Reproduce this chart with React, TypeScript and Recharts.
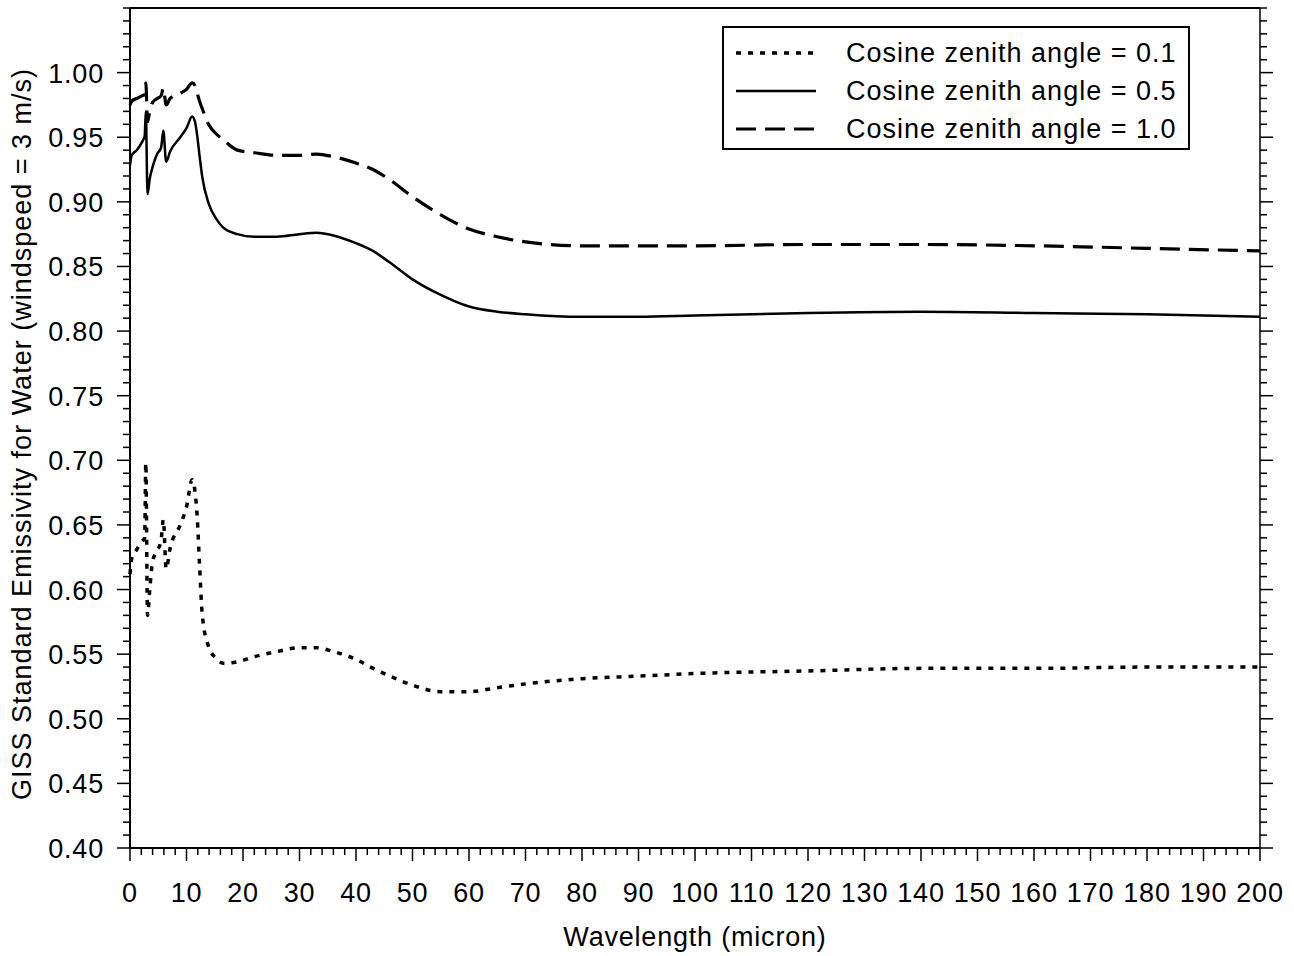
import React from "react";
import { LineChart, Line, XAxis, YAxis, ReferenceLine, Label } from "recharts";

const wavelength = [
  0, 0.3, 1.2, 2.1, 2.6, 2.8, 3.1, 3.5, 4.0, 4.8, 5.5, 5.9, 6.4, 7.1, 8.9, 10, 11, 11.5, 11.9, 12.3, 12.8,
  13.9, 15.4, 16.5, 19, 22, 26, 30, 33, 36, 40, 43, 46, 50, 55, 60, 65, 70, 80, 90, 100, 120, 140, 160,
  180, 200,
];
const cos01 = [
  0.612, 0.624, 0.631, 0.637, 0.64, 0.698, 0.58, 0.6, 0.622, 0.63, 0.638, 0.654, 0.616, 0.632, 0.65, 0.664,
  0.685, 0.676, 0.656, 0.62, 0.58, 0.556, 0.546, 0.543, 0.544, 0.548, 0.552, 0.555, 0.555, 0.552, 0.546,
  0.539, 0.533, 0.526, 0.521, 0.521, 0.524, 0.527, 0.531, 0.533, 0.535, 0.537, 0.539, 0.539, 0.54, 0.54,
];
const cos05 = [
  0.928, 0.936, 0.94, 0.946, 0.951, 0.97, 0.906, 0.918, 0.927, 0.937, 0.942, 0.955, 0.931, 0.939, 0.95,
  0.957, 0.966, 0.962, 0.951, 0.936, 0.919, 0.899, 0.886, 0.88, 0.875, 0.873, 0.873, 0.875, 0.876, 0.874,
  0.868, 0.862, 0.853, 0.84, 0.828, 0.819, 0.815, 0.813, 0.811, 0.811, 0.812, 0.814, 0.815, 0.814, 0.813,
  0.811,
];
const cos10 = [
  0.975, 0.978, 0.98, 0.982, 0.983, 0.992, 0.962, 0.97, 0.977, 0.98, 0.982, 0.988, 0.975, 0.98, 0.984,
  0.987, 0.992, 0.99, 0.984, 0.978, 0.972, 0.96, 0.952, 0.948, 0.94, 0.938, 0.936, 0.936, 0.937, 0.935,
  0.93, 0.925, 0.917, 0.904, 0.89, 0.879, 0.873, 0.869, 0.866, 0.866, 0.866, 0.867, 0.867, 0.866, 0.864,
  0.862,
];

const xMajorTicks = [0, 10, 20, 30, 40, 50, 60, 70, 80, 90, 100, 110, 120, 130, 140, 150, 160, 170, 180, 190, 200];
const yMajorTicks = [0.4, 0.45, 0.5, 0.55, 0.6, 0.65, 0.7, 0.75, 0.8, 0.85, 0.9, 0.95, 1.0];

const legendItems = [
  { label: "Cosine zenith angle = 0.1", dash: "5 7", width: 3.5 },
  { label: "Cosine zenith angle = 0.5", dash: undefined, width: 2.5 },
  { label: "Cosine zenith angle = 1.0", dash: "20 9", width: 3 },
];

const data = wavelength.map((w, i) => ({ w, c01: cos01[i], c05: cos05[i], c10: cos10[i] }));

// minor ticks: every 2 on x, every 0.01 on y
const xTicks: number[] = [];
for (let v = 0; v <= 200; v += 2) xTicks.push(v);
const yTicks: number[] = [];
for (let k = 40; k <= 105; k++) yTicks.push(k / 100);

const FONT = "'Liberation Sans', Arial, Helvetica, sans-serif";
const TXT = { fontFamily: FONT, fontSize: 27, fill: "#000", letterSpacing: 0.8 };

function XTick({ x, y, payload }: any) {
  const v = payload.value;
  const major = xMajorTicks.includes(v);
  return (
    <g>
      <line x1={x} x2={x} y1={y} y2={y + (major ? 13 : 7)} stroke="#000" strokeWidth={1.5} />
      {major && (
        <text x={x} y={y + 54} textAnchor="middle" style={TXT}>
          {v}
        </text>
      )}
    </g>
  );
}

function isMajorY(v: number) {
  return yMajorTicks.some((m) => Math.abs(m - v) < 1e-6);
}

function YTickLeft({ x, y, payload }: any) {
  const v = payload.value;
  const major = isMajorY(v);
  return (
    <g>
      <line x1={x} x2={x - (major ? 13 : 7)} y1={y} y2={y} stroke="#000" strokeWidth={1.5} />
      {major && (
        <text x={x - 26} y={y + 10} textAnchor="end" style={TXT}>
          {v.toFixed(2)}
        </text>
      )}
    </g>
  );
}

function YTickRight({ x, y, payload }: any) {
  const major = isMajorY(payload.value);
  return <line x1={x} x2={x + (major ? 13 : 7)} y1={y} y2={y} stroke="#000" strokeWidth={1.5} />;
}

function LegendBox() {
  return (
    <div
      style={{
        position: "absolute",
        left: 722,
        top: 26,
        width: 464,
        height: 120,
        border: "2px solid #000",
        background: "#fff",
        fontFamily: FONT,
        fontSize: 27,
        letterSpacing: 1,
      }}
    >
      {legendItems.map((it, i) => (
        <div key={i} style={{ position: "absolute", left: 0, top: 8 + i * 38, height: 34, display: "flex", alignItems: "center" }}>
          <svg width={110} height={34} style={{ marginLeft: 12 }}>
            <line x1={0} x2={80} y1={17} y2={17} stroke="#000" strokeWidth={it.width} strokeDasharray={it.dash} />
          </svg>
          <span style={{ whiteSpace: "nowrap" }}>{it.label}</span>
        </div>
      ))}
    </div>
  );
}

export default function App() {
  return (
    <div style={{ position: "absolute", left: 0, top: 0, width: 1294, height: 956, background: "#fff" }}>
      <LineChart width={1294} height={956} data={data} margin={{ top: 8, right: 0, bottom: 0, left: 0 }}>
        <XAxis
          dataKey="w"
          type="number"
          domain={[0, 200]}
          ticks={xTicks}
          interval={0}
          tickSize={0}
          tickMargin={0}
          tickLine={false}
          tick={<XTick />}
          height={108}
          axisLine={{ stroke: "#000", strokeWidth: 2 }}
        >
          <Label
            content={({ viewBox }: any) => (
              <text x={viewBox.x + viewBox.width / 2} y={viewBox.y + 98} textAnchor="middle" style={TXT}>
                Wavelength (micron)
              </text>
            )}
          />
        </XAxis>
        <YAxis
          yAxisId="left"
          type="number"
          domain={[0.4, 1.05]}
          allowDataOverflow
          ticks={yTicks}
          interval={0}
          tickSize={0}
          tickMargin={0}
          tickLine={false}
          tick={<YTickLeft />}
          width={130}
          axisLine={{ stroke: "#000", strokeWidth: 2 }}
        >
          <Label
            content={({ viewBox }: any) => {
              const cx = 31;
              const cy = viewBox.y + viewBox.height / 2 + 6;
              return (
                <text
                  x={cx}
                  y={cy}
                  transform={`rotate(-90 ${cx} ${cy})`}
                  textAnchor="middle"
                  style={{ fontFamily: FONT, fontSize: 27, fill: "#000", letterSpacing: 1 }}
                >
                  GISS Standard Emissivity for Water (windspeed = 3 m/s)
                </text>
              );
            }}
          />
        </YAxis>
        <YAxis
          yAxisId="right"
          orientation="right"
          type="number"
          domain={[0.4, 1.05]}
          allowDataOverflow
          ticks={yTicks}
          interval={0}
          tickSize={0}
          tickMargin={0}
          tickLine={false}
          tick={<YTickRight />}
          width={34}
          axisLine={{ stroke: "#000", strokeWidth: 1.5 }}
        />
        <ReferenceLine yAxisId="left" y={1.05} stroke="#000" strokeWidth={2} />
        <Line
          yAxisId="right"
          type="monotone"
          dataKey="c01"
          stroke="#000"
          strokeWidth={3.5}
          strokeDasharray="5 7"
          dot={false}
          isAnimationActive={false}
        />
        <Line yAxisId="left" type="monotone" dataKey="c05" stroke="#000" strokeWidth={2.5} dot={false} isAnimationActive={false} />
        <Line
          yAxisId="left"
          type="monotone"
          dataKey="c10"
          stroke="#000"
          strokeWidth={3.2}
          strokeDasharray="20 9"
          dot={false}
          isAnimationActive={false}
        />
      </LineChart>
      <LegendBox />
    </div>
  );
}
